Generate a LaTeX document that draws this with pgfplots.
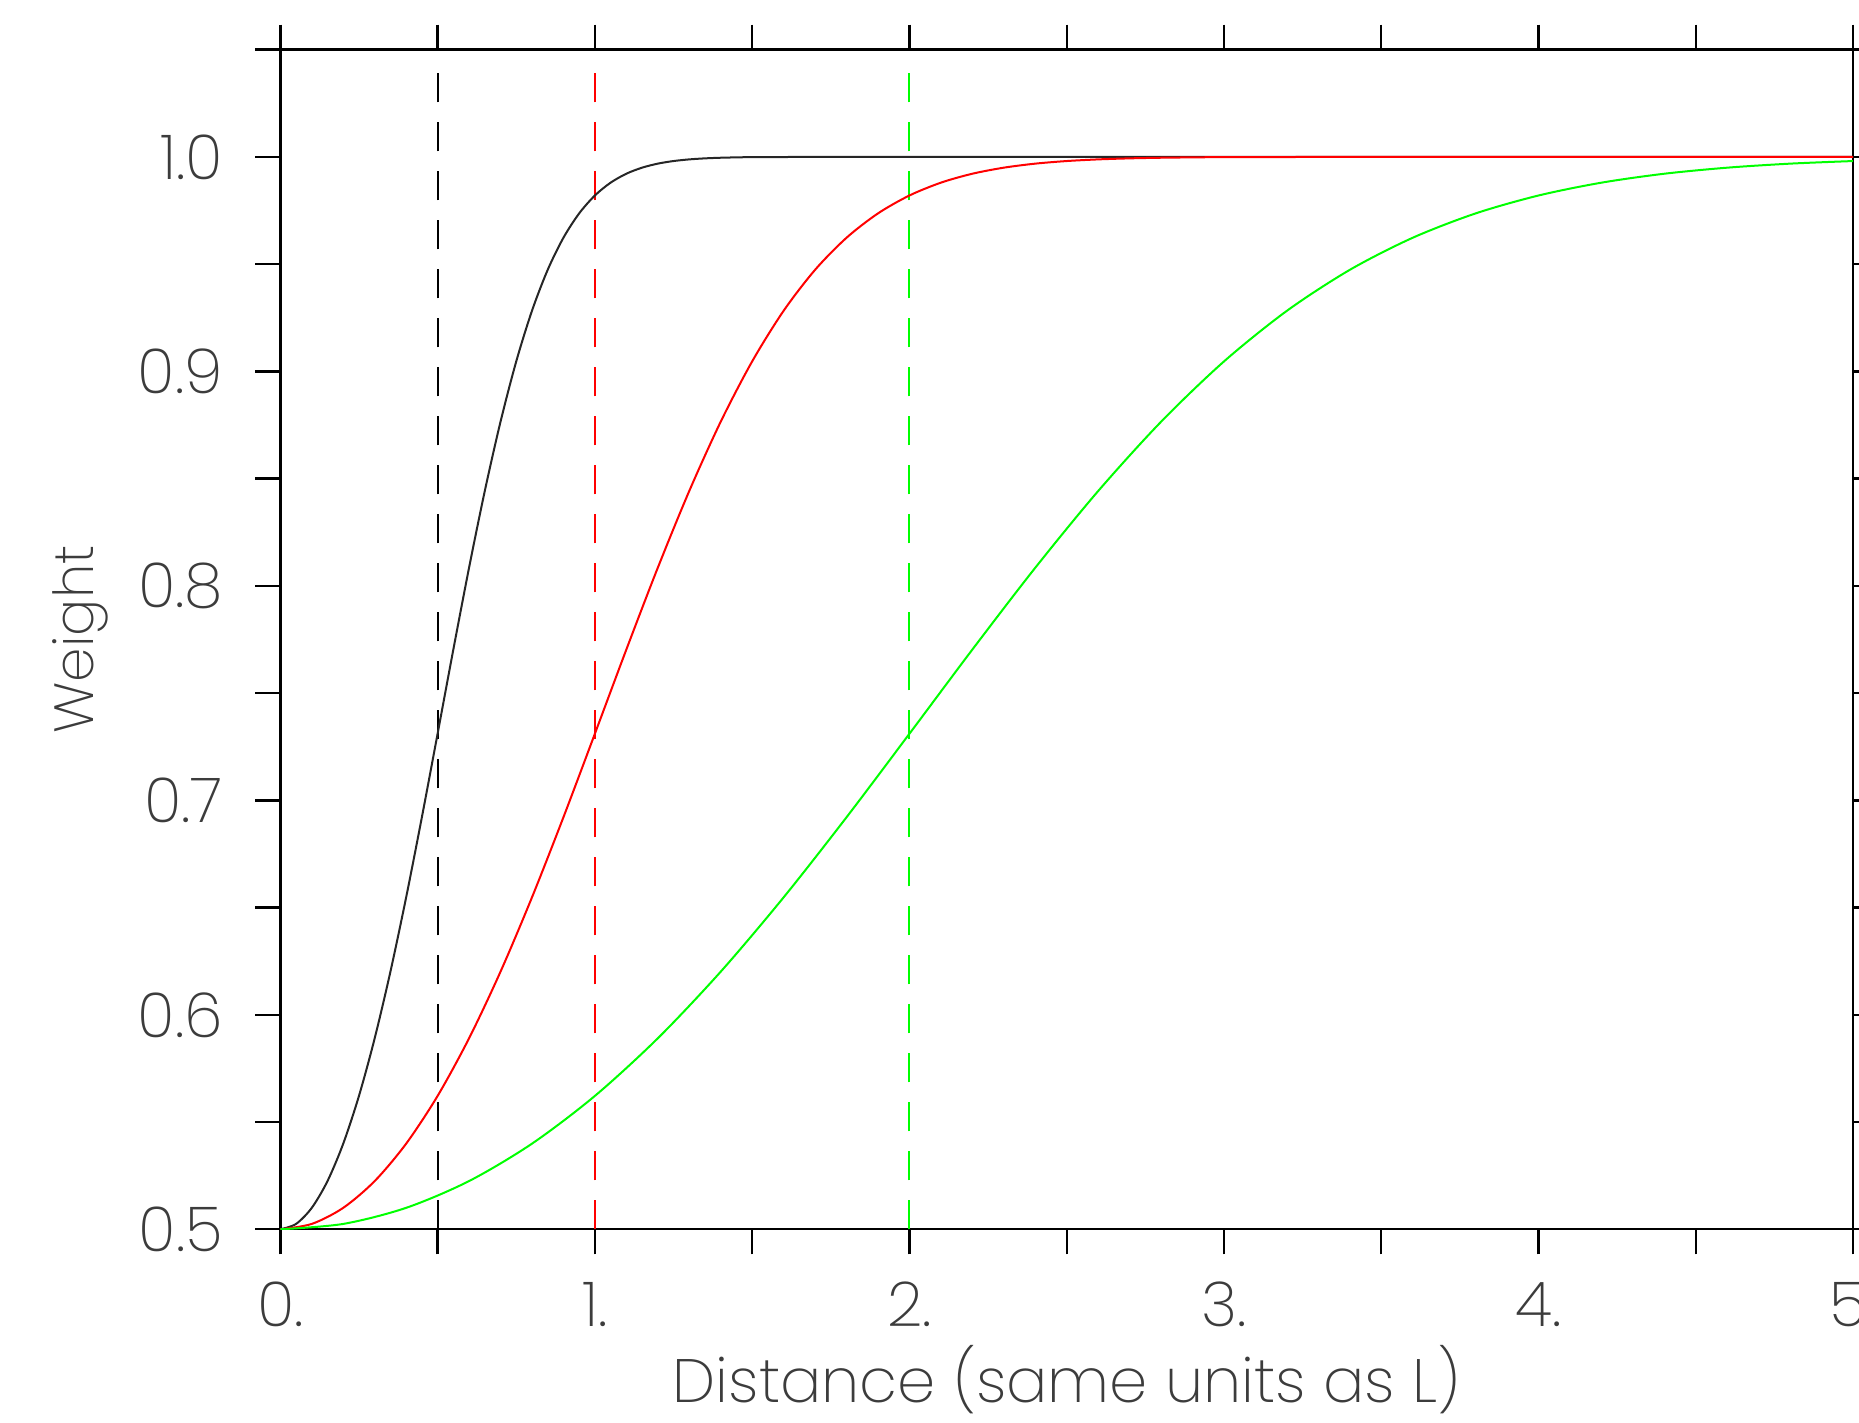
\documentclass[border=0pt]{standalone}
\usepackage{fontspec}
\setmainfont{Poppins}[UprightFont={* ExtraLight}]
\usepackage{pgfplots}
\pgfplotsset{compat=1.18}
\definecolor{txt}{RGB}{60,60,60}
\begin{document}
\begin{tikzpicture}
\begin{axis}[
  at={(0,0)}, anchor=south west,
  scale only axis, width=393.2pt, height=294.9pt,
  xmin=0, xmax=5, ymin=0.5, ymax=1.05,
  xtick={0,1,2,3,4,5}, xticklabels={0.,1.,2.,3.,4.,5.},
  minor xtick={0.5,1.5,2.5,3.5,4.5},
  ytick={0.5,0.6,0.7,0.8,0.9,1.0}, yticklabels={0.5,0.6,0.7,0.8,0.9,1.0},
  minor ytick={0.55,0.65,0.75,0.85,0.95,1.05},
  tick align=outside, major tick length=6.25pt, minor tick length=6.25pt,
  every tick/.style={black, line width=0.6pt},
  axis line style={line width=0.6pt},
  tick label style={font=\fontsize{15.5}{15.5}\selectfont, text=txt, inner sep=0pt},
  xticklabel style={anchor=base, yshift=-18pt},
  yticklabel style={anchor=east, xshift=-7.9pt},
  xlabel={Distance (same units as L)},
  ylabel={Weight},
  every axis x label/.style={at={(axis description cs:0.5,0)}, anchor=base, yshift=-43.3pt,
     font=\fontsize{15.3}{15.3}\selectfont, text=txt, inner sep=0pt},
  every axis y label/.style={at={([xshift=-46.8pt]axis description cs:0,0.5)}, anchor=base, rotate=90,
     font=\fontsize{13.8}{13.8}\selectfont, text=txt, inner sep=0pt},
]
% dashed reference lines at x = L
\addplot[black, line width=0.5pt, dash pattern=on 7.25pt off 5pt] coordinates {(0.5,0.5) (0.5,1.0413)};
\addplot[red, line width=0.5pt, dash pattern=on 7.25pt off 5pt] coordinates {(1,0.5) (1,1.0413)};
\addplot[green, line width=0.5pt, dash pattern=on 7.25pt off 5pt] coordinates {(2,0.5) (2,1.0413)};
% L = 0.5
\addplot[black!85, line width=0.5pt, smooth] coordinates {
(0,0.5)(0.05,0.50250)(0.1,0.51000)(0.15,0.52248)(0.2,0.53992)(0.25,0.56218)(0.3,0.58904)(0.35,0.62011)(0.4,0.65476)(0.45,0.69211)(0.5,0.73106)(0.55,0.77030)(0.6,0.80845)(0.65,0.84422)(0.7,0.87653)(0.75,0.90465)(0.8,0.92825)(0.85,0.94735)(0.9,0.96231)(0.95,0.97366)(1.0,0.98201)(1.05,0.98799)(1.1,0.99216)(1.15,0.99498)(1.2,0.99686)(1.25,0.99807)(1.3,0.99884)(1.35,0.99932)(1.4,0.99961)(1.45,0.99978)(1.5,0.99988)(1.7,0.99999)(2.0,1.0)(3,1)(4,1)(5,1)};
% L = 1
\addplot[red, line width=0.5pt, smooth] coordinates {
(0,0.5)(0.1,0.50250)(0.2,0.51000)(0.3,0.52248)(0.4,0.53992)(0.5,0.56218)(0.6,0.58904)(0.7,0.62011)(0.8,0.65476)(0.9,0.69211)(1.0,0.73106)(1.1,0.77030)(1.2,0.80845)(1.3,0.84422)(1.4,0.87653)(1.5,0.90465)(1.6,0.92825)(1.7,0.94735)(1.8,0.96231)(1.9,0.97366)(2.0,0.98201)(2.1,0.98799)(2.2,0.99216)(2.3,0.99498)(2.4,0.99686)(2.5,0.99807)(2.6,0.99884)(2.7,0.99932)(2.8,0.99961)(2.9,0.99978)(3.0,0.99988)(3.4,0.99999)(4,1)(5,1)};
% L = 2
\addplot[green, line width=0.5pt, smooth] coordinates {
(0,0.5)(0.2,0.50250)(0.4,0.51000)(0.6,0.52248)(0.8,0.53992)(1.0,0.56218)(1.2,0.58904)(1.4,0.62011)(1.6,0.65476)(1.8,0.69211)(2.0,0.73106)(2.2,0.77030)(2.4,0.80845)(2.6,0.84422)(2.8,0.87653)(3.0,0.90465)(3.2,0.92825)(3.4,0.94735)(3.6,0.96231)(3.8,0.97366)(4.0,0.98201)(4.2,0.98799)(4.4,0.99216)(4.6,0.99498)(4.8,0.99686)(5.0,0.99807)};
\end{axis}
\pgfresetboundingbox
\path[use as bounding box] (-70.08pt,-48.18pt) rectangle (394.67pt,307.32pt);
\end{tikzpicture}
\end{document}
